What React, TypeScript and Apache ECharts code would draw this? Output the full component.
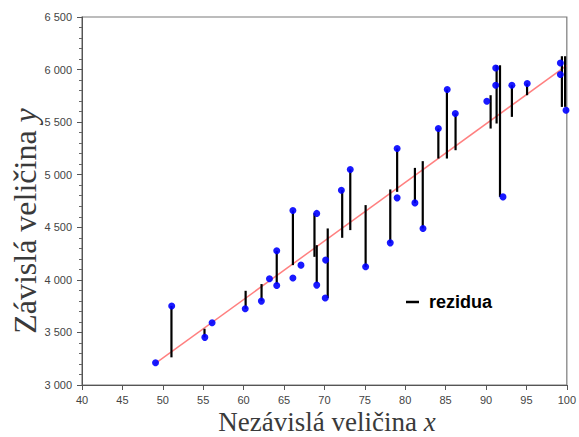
import React, { useEffect, useRef } from 'react';
import * as echarts from 'echarts';

// Observed points (Nezávislá veličina x, Závislá veličina y)
const pointX = [49.1, 51.1, 55.2, 56.1, 60.2, 62.2, 63.2, 64.1, 64.1, 66.1, 66.1, 67.1, 69.05, 69.05, 70.15, 70.1, 72.1, 73.2, 75.1, 78.15, 79.0, 79.0, 81.2, 82.2, 84.1, 85.2, 86.2, 90.1, 91.2, 91.2, 92.1, 93.2, 95.1, 99.2, 99.2, 99.9];
const pointY = [3212, 3751, 3453, 3592, 3725, 3798, 4010, 4276, 3947, 4660, 4017, 4140, 4632, 3950, 4188, 3827, 4853, 5050, 4124, 4352, 5249, 4780, 4732, 4489, 5439, 5810, 5582, 5699, 6015, 5851, 4789, 5851, 5867, 6063, 5953, 5613];

// Residual segments (vertical bars)
const resX = [51.07, 55.16, 60.25, 62.22, 64.1, 66.1, 68.77, 69.05, 70.41, 72.2, 73.2, 75.1, 78.15, 79.0, 81.2, 82.17, 84.1, 85.16, 86.23, 90.57, 91.31, 91.73, 93.2, 95.08, 99.39, 99.79];
const resTop = [3751, 3535, 3896, 3960, 4276, 4660, 4634, 4330, 4489, 4853, 5050, 4711, 4860, 5249, 5065, 5129, 5439, 5810, 5582, 5756, 6041, 6041, 5851, 5867, 6127, 6127];
const resBottom = [3263, 3453, 3725, 3798, 3960, 4140, 4219, 3969, 3827, 4400, 4473, 4124, 4352, 4837, 4732, 4489, 5154, 5154, 5233, 5439, 5487, 4789, 5550, 5756, 5645, 5645];

// Regression line endpoints
const regX = [49, 100];
const regY = [3200, 6040];

const xTitle = 'Nezávislá veličina ';
const xVar = 'x';
const yTitle = 'Závislá veličina ';
const yVar = 'y';
const legendName = 'rezidua';

function fmtThousands(v: number): string {
  const s = String(Math.round(v));
  return s.replace(/\B(?=(\d{3})+(?!\d))/g, ' ');
}

export default function App() {
  const ref = useRef<HTMLDivElement>(null);
  useEffect(() => {
    if (!ref.current) return;
    const chart = echarts.init(ref.current, null, { renderer: 'svg' });
    const scatterData = pointX.map((x, i) => [x, pointY[i]]);
    const resData = resX.map((x, i) => [x, resTop[i], resBottom[i]]);
    const regData = regX.map((x, i) => [x, regY[i]]);
    const serif = '"Liberation Serif", "DejaVu Serif", serif';
    chart.setOption({
      animation: false,
      backgroundColor: '#ffffff',
      grid: {
        left: 82, right: 9, top: 17, bottom: 52,
        show: true, borderColor: '#7a7a7a', borderWidth: 1.2, backgroundColor: 'transparent',
      },
      legend: {
        data: [{ name: legendName, icon: 'rect' }],
        left: 401, top: 288,
        itemWidth: 13, itemHeight: 2.5,
        textStyle: { fontFamily: '"Liberation Sans", Arial, sans-serif', fontWeight: 'bold', fontSize: 18, color: '#000', padding: [0, 0, 0, 5] },
      },
      xAxis: {
        type: 'value', min: 40, max: 100, interval: 5,
        splitLine: { show: false },
        axisLine: { lineStyle: { color: '#555', width: 1 } },
        axisTick: { length: 5, lineStyle: { color: '#555' } },
        axisLabel: { fontFamily: '"Liberation Sans", Arial, sans-serif', fontSize: 11, color: '#444', margin: 9 },
      },
      yAxis: {
        type: 'value', min: 3000, max: 6500, interval: 500,
        splitLine: { show: false },
        axisLine: { show: true, lineStyle: { color: '#555', width: 1 } },
        axisTick: { show: true, length: 5, lineStyle: { color: '#555' } },
        minorTick: { show: true, splitNumber: 5, length: 3, lineStyle: { color: '#666' } },
        axisLabel: { fontFamily: '"Liberation Sans", Arial, sans-serif', fontSize: 11, color: '#444', margin: 10, formatter: (v: number) => fmtThousands(v) },
      },
      graphic: [
        {
          type: 'text', x: 327, y: 422,
          style: {
            text: `{a|${xTitle}}{b|${xVar}}`,
            align: 'center', verticalAlign: 'middle',
            rich: {
              a: { fontFamily: serif, fontSize: 27, lineHeight: 27, fill: '#3a3a3a', color: '#3a3a3a' },
              b: { fontFamily: serif, fontSize: 27, lineHeight: 27, fontStyle: 'italic', fill: '#3a3a3a', color: '#3a3a3a' },
            },
          },
        },
        {
          type: 'text', x: 25, y: 221, rotation: Math.PI / 2,
          style: {
            text: `{a|${yTitle}}{b|${yVar}}`,
            align: 'center', verticalAlign: 'middle',
            rich: {
              a: { fontFamily: serif, fontSize: 32, lineHeight: 34, fill: '#3a3a3a', color: '#3a3a3a' },
              b: { fontFamily: serif, fontSize: 32, lineHeight: 34, fontStyle: 'italic', fill: '#3a3a3a', color: '#3a3a3a' },
            },
          },
        },
      ],
      series: [
        {
          type: 'line', name: 'regrese', data: regData, symbol: 'none', z: 1,
          lineStyle: { color: '#ff8080', width: 1.5 },
        },
        {
          type: 'custom', name: legendName, data: resData, z: 2,
          itemStyle: { color: '#000' },
          encode: { x: 0, y: [1, 2] },
          renderItem: (params: any, api: any) => {
            const p1 = api.coord([api.value(0), api.value(1)]);
            const p2 = api.coord([api.value(0), api.value(2)]);
            return {
              type: 'line',
              shape: { x1: p1[0], y1: p1[1], x2: p2[0], y2: p2[1] },
              style: { stroke: '#000', lineWidth: 2.2 },
            };
          },
        },
        {
          type: 'scatter', name: 'data', data: scatterData, z: 3,
          symbol: 'circle', symbolSize: 7,
          itemStyle: { color: '#0000ff', opacity: 0.9 },
        },
      ],
    });
    return () => chart.dispose();
  }, []);
  return <div ref={ref} style={{ width: 579, height: 437, position: 'absolute', left: 0, top: 0 }} />;
}
